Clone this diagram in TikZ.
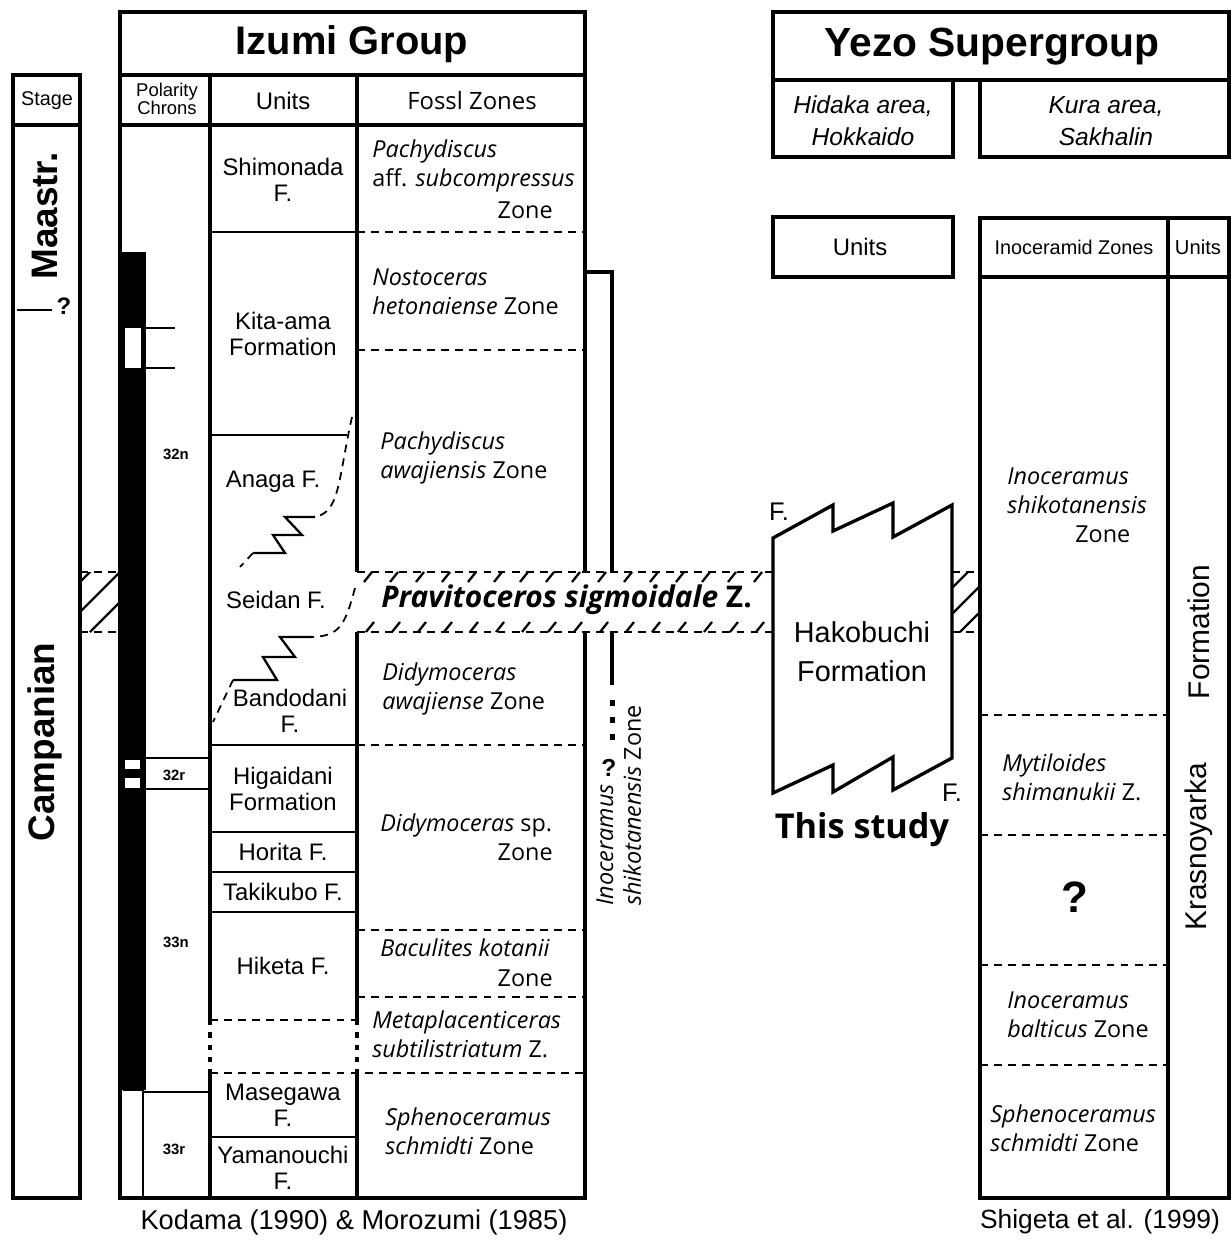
\documentclass[tikz,border=0pt]{standalone}
\usepackage{fontspec}
\setmainfont{Liberation Sans}
\newfontfamily\zonefont{Open Sans}
\usetikzlibrary{arrows.meta}

\begin{document}
\begin{tikzpicture}[x=0.02cm,y=-0.02cm,
  frame/.style={line width=1.9pt},
  rule/.style={line width=1.3pt},
  zdash/.style={line width=1pt,dash pattern=on 4.5pt off 3.5pt},
  dots/.style={line width=2pt,dash pattern=on 3pt off 4pt},
  hd/.style={inner sep=0pt,font=\fontsize{13.6}{15}\selectfont},
  unit/.style={inner sep=0pt,align=center,font=\fontsize{13.6}{15}\selectfont},
  zone/.style={inner sep=0pt,anchor=west,align=left,font=\zonefont\fontsize{13.3}{16.5}\selectfont},
  zend/.style={inner sep=0pt,anchor=east,font=\zonefont\fontsize{13.3}{16.5}\selectfont},
  chron/.style={inner sep=0pt,font=\bfseries\fontsize{8.5}{9}\selectfont},
  title/.style={inner sep=0pt,font=\bfseries\fontsize{22.7}{24}\selectfont},
  stagename/.style={inner sep=0pt,rotate=90,font=\bfseries\fontsize{21}{22}\selectfont},
  cite/.style={inner sep=0pt,font=\fontsize{15.5}{17}\selectfont}]

\fill[white] (0,0) rectangle (1231,1242);
\useasboundingbox (0,0) rectangle (1231,1242);

% stage column
\draw[frame] (13,75) rectangle (80,1198);
\draw[frame] (13,125) -- (80,125);
\draw[rule] (17,310) -- (52,310);
\node[hd,font=\fontsize{11.3}{12}\selectfont] (stagehd) at (47,101) {Stage};
\node[stagename] (maastr) at (45,216) {Maastr.};
\node[stagename] (campan) at (45,742) {Campanian};
\node[hd,font=\bfseries\fontsize{13.6}{15}\selectfont] (stageq) at (64,306) {?};

% polarity chrons
\fill (120,252) rectangle (146,1090);
\fill[white] (125,328) rectangle (141,368);
\fill[white] (125,760) rectangle (140,769);
\fill[white] (125,778) rectangle (140,788);
\draw[rule] (146,328) -- (175,328) (146,368) -- (175,368);
\draw[rule] (146,758) -- (210,758) (146,789) -- (210,789);
\draw[rule] (123,1090) -- (143,1090) (143,1092) -- (210,1092) (143,1090) -- (143,1198);
\node[chron] (c32n) at (176,454) {32n};
\node[chron] (c32r) at (174,775) {32r};
\node[chron] (c33n) at (176,942) {33n};
\node[chron] (c33r) at (174,1149) {33r};

% Izumi Group frame
\draw[frame] (585,572) -- (585,12) -- (120,12) -- (120,1198) -- (585,1198) -- (585,632);
\draw[frame] (120,75) -- (585,75) (120,125) -- (585,125);
\draw[frame] (210,75) -- (210,1020) (210,1073) -- (210,1198);
\draw[frame] (357,75) -- (357,572) (357,632) -- (357,1020) (357,1073) -- (357,1198);
\draw[dots] (210,1020) -- (210,1073) (357,1020) -- (357,1073);
\node[title] (izumi) at (352,44) {Izumi Group};
\node[hd,align=center,font=\fontsize{10.5}{10.2}\selectfont] (chronhd) at (167,99) {Polarity\\Chrons};
\node[hd] (unitshd) at (283,101) {Units};
\node[hd,font=\zonefont\fontsize{13.6}{15}\selectfont] (zonehd) at (472,101) {Fossl Zones};

% units
\draw[rule] (210,232) -- (357,232) (210,435) -- (347,435) (210,745) -- (357,745);
\draw[rule] (210,832) -- (357,832) (210,872) -- (357,872) (210,912) -- (357,912);
\draw[rule] (210,1137) -- (357,1137);
\draw[zdash] (210,1020) -- (357,1020);
\draw[zdash] (352,417) .. controls (338,480) and (340,512) .. (315,517);
\draw[rule] (315,517) -- (285,517) -- (302,535) -- (273,535) -- (285,553) -- (253,553);
\draw[zdash] (253,553) -- (240,567);
\draw[zdash] (355,588) .. controls (345,625) and (340,636) .. (312,637);
\draw[rule] (312,637) -- (280,637) -- (295,657) -- (263,657) -- (277,680) -- (233,680);
\draw[zdash] (233,680) -- (213,722);
\node[unit] (shimonada) at (283,180) {Shimonada\\F.};
\node[unit] (kitaama) at (283,334) {Kita-ama\\Formation};
\node[unit] (anaga) at (273,482) {Anaga F.};
\node[unit] (seidan) at (276,600) {Seidan F.};
\node[unit] (bandodani) at (290,711) {Bandodani\\F.};
\node[unit] (higaidani) at (283,789) {Higaidani\\Formation};
\node[unit] (horita) at (283,852) {Horita F.};
\node[unit] (takikubo) at (283,892) {Takikubo F.};
\node[unit] (hiketa) at (283,966) {Hiketa F.};
\node[unit] (masegawa) at (283,1105) {Masegawa\\F.};
\node[unit] (yamanouchi) at (283,1168) {Yamanouchi\\F.};

% fossil zones
\draw[zdash] (357,232) -- (585,232) (357,350) -- (585,350) (357,745) -- (585,745);
\draw[zdash] (357,930) -- (585,930) (357,997) -- (585,997) (210,1073) -- (585,1073);
\node[zone] (pachy1) at (372,166) {\textit{Pachydiscus}\\aff. \textit{subcompressus}};
\node[zend] (pachy1z) at (553,210) {Zone};
\node[zone] (nosto) at (372,292) {\textit{Nostoceras}\\\textit{hetonaiense} Zone};
\node[zone] (pachy2) at (380,458) {\textit{Pachydiscus}\\\textit{awajiensis} Zone};
\node[zone] (didy1) at (382,689) {\textit{Didymoceras}\\\textit{awajiense} Zone};
\node[zone] (didy2) at (380,825) {\textit{Didymoceras} sp.};
\node[zend] (didy2z) at (553,852) {Zone};
\node[zone] (bacu) at (380,948) {\textit{Baculites kotanii}};
\node[zend] (bacuz) at (553,978) {Zone};
\node[zone] (meta) at (372,1034) {\textit{Metaplacenticeras}\\\textit{subtilistriatum} Z.};
\node[zone] (sphen1) at (385,1131) {\textit{Sphenoceramus}\\\textit{schmidti} Zone};

% range of I. shikotanensis
\draw[frame] (585,272) -- (612,272) -- (612,572);
\draw[frame] (612,632) -- (612,685);
\foreach \y in {703,720,737} \fill (609.5,\y-3) rectangle (614.5,\y+3);
\node[chron,font=\bfseries\fontsize{14}{14}\selectfont] (inocq) at (609,768) {?};
\node[zone,rotate=90] (inoc1) at (605,906) {\textit{Inoceramus}};
\node[zone,rotate=90] (inoc2) at (632,906) {\textit{shikotanensis} Zone};

% Pravitoceros band
\begin{scope}
\clip (80,572) rectangle (120,632);
\foreach \s in {30,60,90} \draw[rule] (\s,632) -- ++(70,-70);
\end{scope}
\draw[zdash] (80,572) -- (120,572) (80,632) -- (120,632);
\draw[zdash] (357,572) -- (773,572) (357,632) -- (773,632);
\foreach \x in {372,398,...,762} \draw[rule] (\x,572) -- ++(-8,10);
\foreach \x in {366,392,...,756} \draw[rule] (\x,632) -- ++(8,-10);
\begin{scope}
\clip (952,572) rectangle (978,632);
\foreach \s in {908,934,960} \draw[rule] (\s,632) -- ++(70,-70);
\end{scope}
\draw[zdash] (952,572) -- (978,572) (952,632) -- (978,632);
\node[zone,font=\zonefont\bfseries\fontsize{17}{18}\selectfont] (pravi) at (381,600) {\textit{Pravitoceros sigmoidale} Z.};

% Hakobuchi Formation
\draw[frame,fill=white] (773,538) -- (833,505) -- (833,531) -- (893,503) -- (893,537) -- (952,505)
  -- (952,758) -- (893,790) -- (893,757) -- (833,792) -- (833,765) -- (773,793) -- cycle;
\node[unit,font=\fontsize{16.4}{22}\selectfont] (hako) at (862,652) {Hakobuchi\\Formation};
\node[hd,font=\fontsize{14.5}{15}\selectfont] (ftop) at (779,512) {F.};
\node[hd,font=\fontsize{14.5}{15}\selectfont] (fbot) at (952,793) {F.};
\node[inner sep=0pt,font=\zonefont\bfseries\fontsize{19.5}{20}\selectfont] (study) at (862,830) {This study};

% Yezo Supergroup
\draw[frame] (773,12) rectangle (1229,80);
\draw[frame] (773,80) rectangle (953,157) (980,80) rectangle (1229,157);
\draw[frame] (773,217) rectangle (953,277);
\draw[frame] (980,218) rectangle (1229,1198);
\draw[frame] (980,277) -- (1229,277) (1168,218) -- (1168,1198);
\node[title,font=\bfseries\fontsize{23.2}{24}\selectfont] (yezo) at (992,47) {Yezo Supergroup};
\node[unit,font=\itshape\fontsize{14}{18}\selectfont] (hidaka) at (863,121) {Hidaka area,\\Hokkaido};
\node[unit,font=\itshape\fontsize{14}{18}\selectfont] (kura) at (1106,121) {Kura area,\\Sakhalin};
\node[hd] (hidunits) at (860,247) {Units};
\node[hd,font=\fontsize{11.3}{12}\selectfont] (inochd) at (1074,247) {Inoceramid Zones};
\node[hd,font=\fontsize{11.5}{12}\selectfont] (kurunits) at (1198,247) {Units};
\draw[zdash] (980,715) -- (1168,715) (980,835) -- (1168,835) (980,965) -- (1168,965) (980,1065) -- (1168,1065);
\node[zone] (shiko) at (1007,491) {\textit{Inoceramus}\\\textit{shikotanensis}};
\node[zone] (shikoz) at (1075,534) {Zone};
\node[zone] (mytil) at (1002,777) {\textit{Mytiloides}\\\textit{shimanukii} Z.};
\node[hd,font=\bfseries\fontsize{25}{26}\selectfont] (kuraq) at (1075,897) {?};
\node[zone] (balt) at (1007,1015) {\textit{Inoceramus}\\\textit{balticus} Zone};
\node[zone] (sphen2) at (990,1128) {\textit{Sphenoceramus}\\\textit{schmidti} Zone};
\node[hd,rotate=90,font=\fontsize{17}{18}\selectfont] (krasno) at (1199,847) {Krasnoyarka};
\node[hd,rotate=90,font=\fontsize{17}{18}\selectfont] (krform) at (1199,632) {Formation};

% sources
\node[cite] (kodama) at (354,1222) {Kodama (1990) \& Morozumi (1985)};
\node[cite,font=\fontsize{15}{17}\selectfont] (shigeta) at (1100,1222) {Shigeta et al. (1999)};
\end{tikzpicture}
\end{document}
